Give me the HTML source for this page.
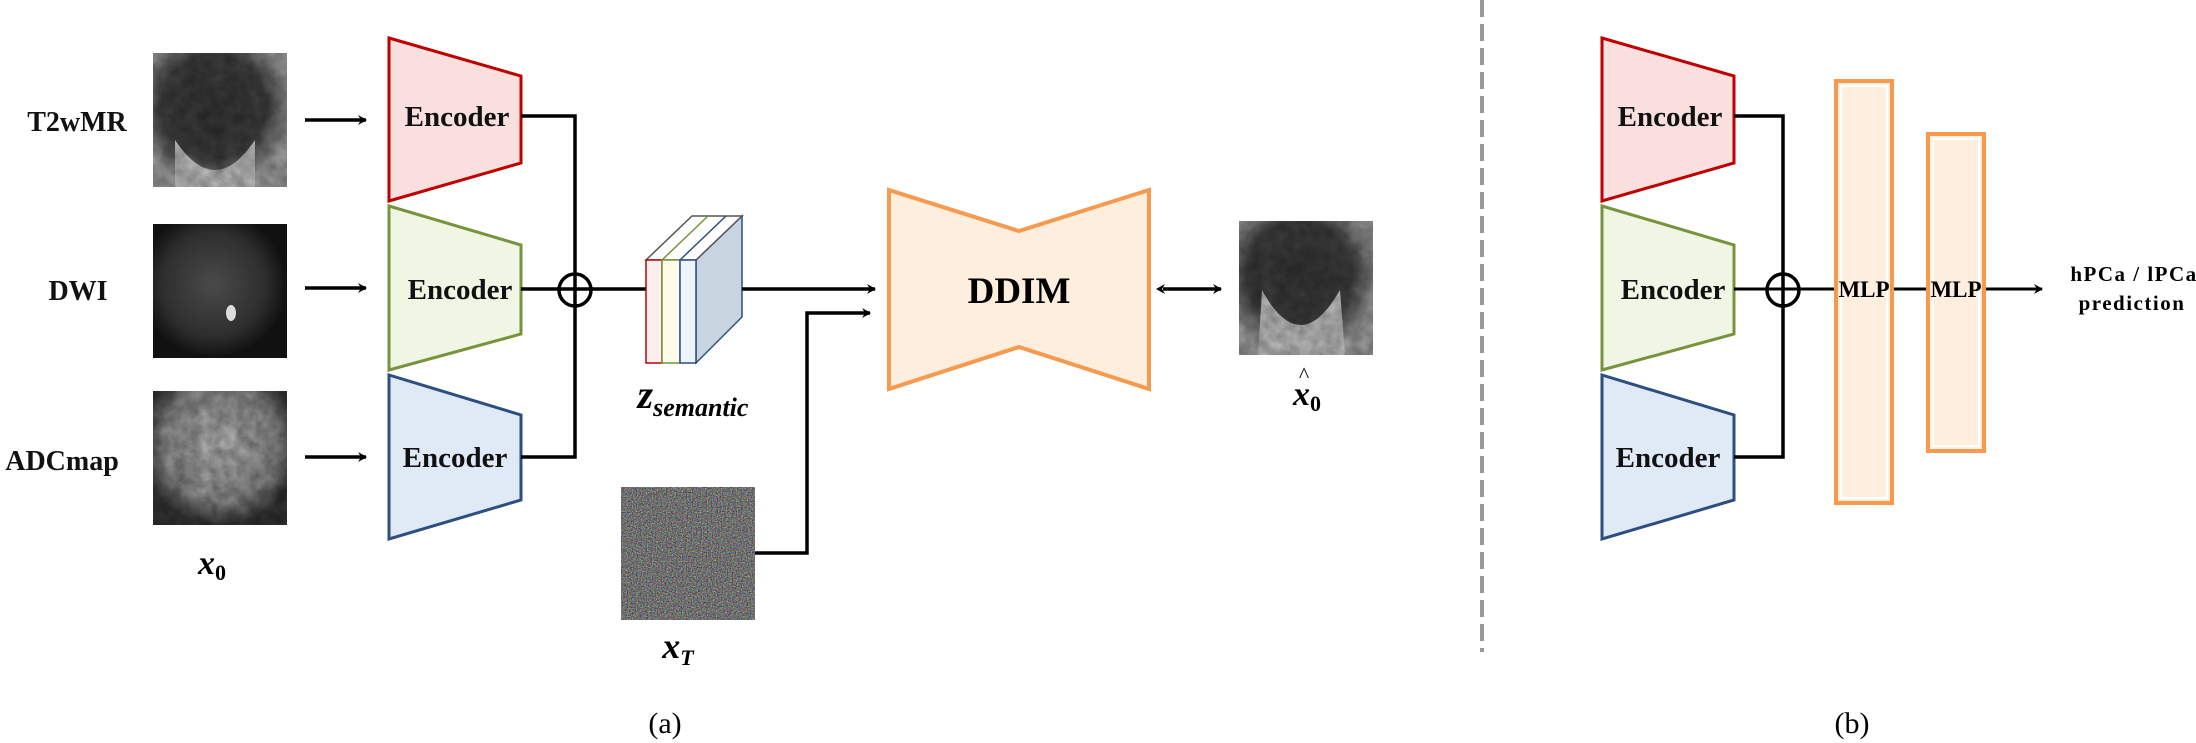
<!DOCTYPE html>
<html><head><meta charset="utf-8"><style>
html,body{margin:0;padding:0;background:#fff;}
svg{display:block;}
text{font-family:"Liberation Serif",serif;}
</style></head><body>
<svg width="2196" height="743" viewBox="0 0 2196 743" xmlns="http://www.w3.org/2000/svg">
<defs>
<marker id="ah" markerWidth="10" markerHeight="10" refX="8" refY="5" orient="auto" markerUnits="userSpaceOnUse">
<path d="M0,0 L9,5 L0,10 L3,5 z" fill="#000"/></marker>
<marker id="ahs" markerWidth="10" markerHeight="10" refX="2" refY="5" orient="auto-start-reverse" markerUnits="userSpaceOnUse">
<path d="M0,0 L9,5 L0,10 L3,5 z" fill="#000"/></marker>
<filter id="noise" x="0" y="0" width="1" height="1" color-interpolation-filters="sRGB">
<feTurbulence type="fractalNoise" baseFrequency="0.8" numOctaves="2" seed="3"/>
<feColorMatrix type="matrix" values="1.1 0 0 0 -0.12  0 1.1 0 0 -0.12  0 0 1.1 0 -0.12  0 0 0 0 1"/>
</filter>
<filter id="tex" x="0" y="0" width="1" height="1" color-interpolation-filters="sRGB">
<feTurbulence type="fractalNoise" baseFrequency="0.08" numOctaves="3" seed="7" result="t"/>
<feColorMatrix in="t" type="matrix" values="0 0 0 0 0  0 0 0 0 0  0 0 0 0 0  0.6 0.6 0 0 -0.3" result="a"/>
<feComposite in="a" in2="SourceGraphic" operator="in"/>
</filter>
<radialGradient id="t2" cx="0.45" cy="0.4" r="0.6"><stop offset="0" stop-color="#333"/><stop offset="0.65" stop-color="#3c3c3c"/><stop offset="1" stop-color="#999"/></radialGradient>
<radialGradient id="dwi" cx="0.45" cy="0.45" r="0.55"><stop offset="0" stop-color="#4a4a4a"/><stop offset="0.7" stop-color="#2e2e2e"/><stop offset="1" stop-color="#111"/></radialGradient>
<radialGradient id="adc" cx="0.5" cy="0.4" r="0.6"><stop offset="0" stop-color="#b5b5b5"/><stop offset="0.7" stop-color="#8a8a8a"/><stop offset="1" stop-color="#333"/></radialGradient>
</defs>

<g font-weight="bold" font-size="28" text-anchor="middle" fill="#111">
<text x="77" y="131">T2wMR</text>
<text x="78" y="300">DWI</text>
<text x="62" y="470">ADCmap</text>
</g>

<rect x="153" y="53" width="134" height="134" fill="url(#t2)"/>
<path d="M175,140 Q215,200 255,140 L255,187 L175,187 z" fill="#b8b8b8"/>
<rect x="153" y="53" width="134" height="134" fill="#000" filter="url(#tex)" opacity="0.5"/>
<rect x="153" y="224" width="134" height="134" fill="url(#dwi)"/>
<ellipse cx="231" cy="313" rx="5" ry="8" fill="#ddd"/>
<rect x="153" y="391" width="134" height="134" fill="url(#adc)"/>
<rect x="153" y="391" width="134" height="134" fill="#000" filter="url(#tex)" opacity="0.6"/>
<text x="212" y="574" font-size="34" font-style="italic" font-weight="bold" text-anchor="middle">x<tspan font-size="22" dy="6" font-style="normal">0</tspan></text>

<g stroke="#000" stroke-width="3.5" marker-end="url(#ah)">
<line x1="305" y1="120" x2="366" y2="120"/>
<line x1="305" y1="288" x2="366" y2="288"/>
<line x1="305" y1="457" x2="366" y2="457"/>
</g>

<g stroke-width="3">
<polygon points="389,38 521,76 521,163 389,201" fill="#f9e0df" stroke="#c00000"/>
<polygon points="389,206 521,245 521,334 389,370" fill="#eff6e3" stroke="#77933c"/>
<polygon points="389,375 521,415 521,500 389,539" fill="#e0eaf6" stroke="#2c4f80"/>
</g>
<g font-weight="bold" font-size="29" text-anchor="middle" fill="#111">
<text x="457" y="126">Encoder</text>
<text x="460" y="299">Encoder</text>
<text x="455" y="467">Encoder</text>
</g>
<g stroke="#000" stroke-width="3.5" fill="none">
<polyline points="521,116 575,116 575,457 521,457"/>
<line x1="521" y1="289" x2="646" y2="289"/>
<circle cx="575" cy="290" r="16"/>
</g>

<g stroke-width="1.5">
<polygon points="696,260 742,216 742,317 696,363" fill="#c8d4e0" stroke="#2c4f80"/>
<polygon points="646,260 692,216 742,216 696,260" fill="#fff" stroke="#555"/>
<line x1="662" y1="260" x2="708" y2="216" stroke="#77933c"/>
<line x1="680" y1="260" x2="726" y2="216" stroke="#2c4f80"/>
<rect x="646" y="260" width="16" height="103" fill="#fbeeee" stroke="#c00000"/>
<rect x="662" y="260" width="18" height="103" fill="#fdfbea" stroke="#77933c"/>
<rect x="680" y="260" width="16" height="103" fill="#eef4fb" stroke="#2c4f80"/>
</g>
<text x="693" y="408" font-size="40" font-style="italic" font-weight="bold" text-anchor="middle">z<tspan font-size="26" dy="8">semantic</tspan></text>

<rect x="621" y="487" width="134" height="133" fill="#808080" filter="url(#noise)"/>
<text x="678" y="658" font-size="36" font-style="italic" font-weight="bold" text-anchor="middle">x<tspan font-size="22" dy="7">T</tspan></text>

<g stroke="#000" stroke-width="3.5" fill="none">
<line x1="742" y1="289" x2="875" y2="289" marker-end="url(#ah)"/>
<polyline points="755,553 807,553 807,313 870,313" marker-end="url(#ah)"/>
<line x1="1163" y1="289" x2="1221" y2="289" marker-start="url(#ahs)" marker-end="url(#ah)"/>
</g>

<polygon points="889,190 1019,231 1149,190 1149,389 1019,347 889,389" fill="#fdeedd" stroke="#f59a4f" stroke-width="4"/>
<text x="1019" y="303" font-size="37" font-weight="bold" text-anchor="middle">DDIM</text>

<rect x="1239" y="221" width="134" height="134" fill="url(#t2)"/>
<path d="M1262,290 Q1300,360 1340,290 L1345,355 L1258,355 z" fill="#b5b5b5"/>
<rect x="1239" y="221" width="134" height="134" fill="#000" filter="url(#tex)" opacity="0.5"/>
<text x="1307" y="405" font-size="34" font-style="italic" font-weight="bold" text-anchor="middle">x<tspan font-size="22" dy="6" font-style="normal">0</tspan></text>
<text x="1304" y="382" font-size="22" text-anchor="middle">^</text>

<text x="665" y="733" font-size="30" text-anchor="middle">(a)</text>

<line x1="1482" y1="0" x2="1482" y2="652" stroke="#999" stroke-width="4" stroke-dasharray="17,7"/>

<g stroke-width="3">
<polygon points="1602,38 1734,76 1734,163 1602,201" fill="#f9e0df" stroke="#c00000"/>
<polygon points="1602,206 1734,245 1734,334 1602,370" fill="#eff6e3" stroke="#77933c"/>
<polygon points="1602,375 1734,415 1734,500 1602,539" fill="#e0eaf6" stroke="#2c4f80"/>
</g>
<g font-weight="bold" font-size="29" text-anchor="middle" fill="#111">
<text x="1670" y="126">Encoder</text>
<text x="1673" y="299">Encoder</text>
<text x="1668" y="467">Encoder</text>
</g>
<g stroke="#000" stroke-width="3.5" fill="none">
<polyline points="1734,116 1783,116 1783,457 1734,457"/>
<circle cx="1783" cy="290" r="16"/>
</g>
<g stroke="#000" stroke-width="3">
<line x1="1734" y1="289" x2="1836" y2="289"/>
<line x1="1892" y1="289" x2="1928" y2="289"/>
<line x1="1984" y1="289" x2="2042" y2="289" marker-end="url(#ah)"/>
</g>
<rect x="1836" y="81" width="56" height="422" fill="#fdeedd" stroke="#f59a4f" stroke-width="4"/>
<rect x="1841" y="86" width="46" height="412" fill="none" stroke="#fff" stroke-width="2"/>
<rect x="1928" y="134" width="56" height="317" fill="#fdeedd" stroke="#f59a4f" stroke-width="4"/>
<rect x="1933" y="139" width="46" height="307" fill="none" stroke="#fff" stroke-width="2"/>
<g font-weight="bold" font-size="23" text-anchor="middle">
<text x="1864" y="297">MLP</text>
<text x="1956" y="297">MLP</text>
</g>
<g font-weight="bold" font-size="21" text-anchor="middle" letter-spacing="1.5">
<text x="2134" y="281">hPCa / lPCa</text>
<text x="2132" y="310">prediction</text>
</g>
<text x="1852" y="733" font-size="30" text-anchor="middle">(b)</text>
</svg>
</body></html>
